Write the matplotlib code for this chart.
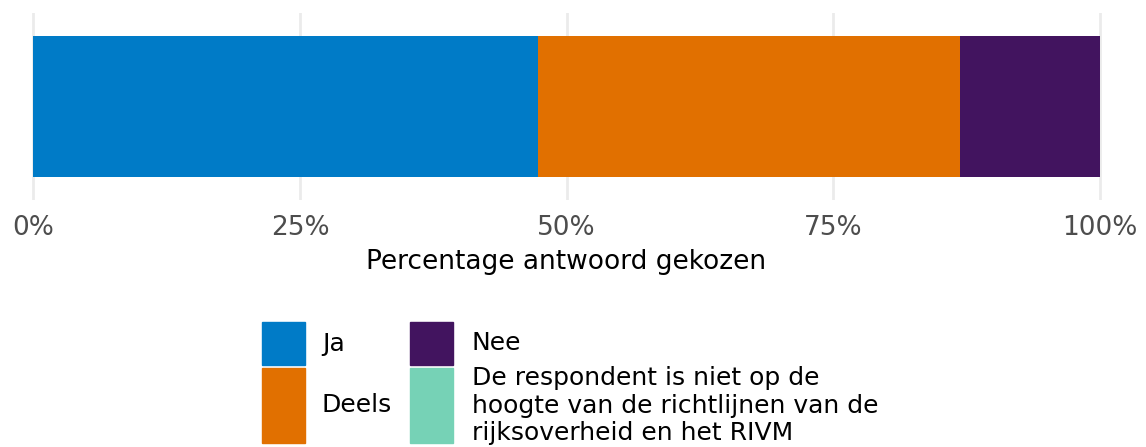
import matplotlib.pyplot as plt
from matplotlib.patches import Rectangle
from matplotlib.ticker import FuncFormatter

# antwoorden en percentages
answers = ['Ja', 'Deels', 'Nee',
           'De respondent is niet op de\nhoogte van de richtlijnen van de\nrijksoverheid en het RIVM']
percent = [47.3, 39.6, 13.1, 0.0]
colors = ['#007BC7', '#E17000', '#42145F', '#76D2B6']
ticks = [0, 25, 50, 75, 100]

W, H = 1146, 447
fig = plt.figure(figsize=(W / 100, H / 100), dpi=100)

# panel: 0% op x=33, 100% op x=1100, y van 13 tot 200 pixels
x0, x1 = 30, 1103
ax = fig.add_axes([x0 / W, (H - 200) / H, (x1 - x0) / W, 187 / H])

left = 0
for val, col in zip(percent, colors):
    ax.barh(1, val, left=left, height=0.9, color=col, zorder=2)
    left += val

scale = 1066.7 / 100
ax.set_xlim(-(33.3 - x0) / scale, 100 + (x1 - 1100) / scale)
ax.set_ylim(0.4, 1.6)
ax.set_xticks(ticks)
ax.xaxis.set_major_formatter(FuncFormatter(lambda v, p: '%d%%' % v))
ax.set_yticks([])
ax.grid(axis='x', color='#EBEBEB', linewidth=2, zorder=0)
ax.tick_params(axis='x', length=0, pad=10.5, labelsize=19, labelcolor='#4D4D4D')
for s in ax.spines.values():
    s.set_visible(False)
ax.set_xlabel('Percentage antwoord gekozen', fontsize=19, color='black', labelpad=6)

# legenda, twee kolommen
lg = fig.add_axes([0, 0, 1, 1])
lg.set_xlim(0, W)
lg.set_ylim(H, 0)
lg.axis('off')
key_x = [262, 262, 410, 410]
key_y = [322, 368, 322, 368]
key_h = [43, 75, 43, 75]
text_x = [322, 322, 472, 472]
for i in range(len(answers)):
    lg.add_patch(Rectangle((key_x[i], key_y[i]), 43, key_h[i], color=colors[i]))
    lg.text(text_x[i], key_y[i] + key_h[i] / 2, answers[i], fontsize=18,
            va='center', ha='left', linespacing=1.18)

fig.savefig('out.png', dpi=100)
